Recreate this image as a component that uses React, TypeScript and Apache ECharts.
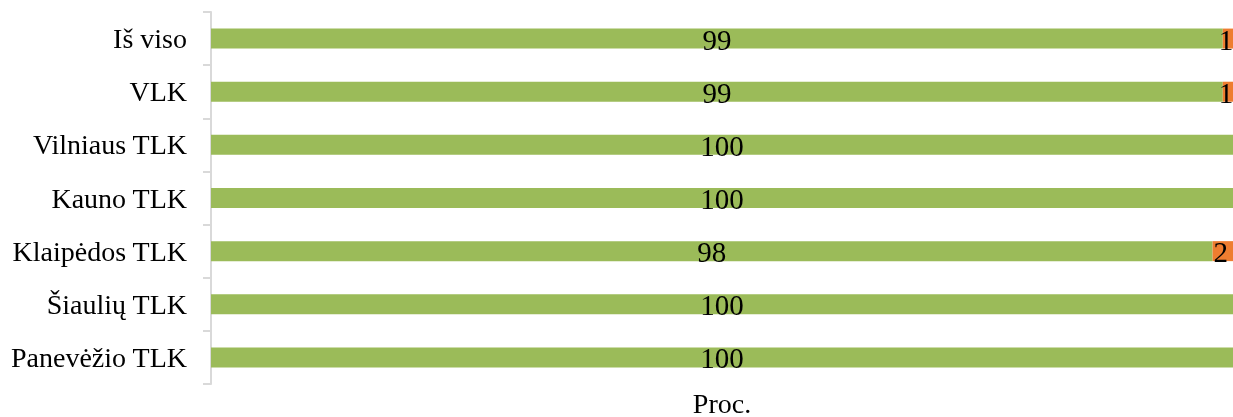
import React, { useEffect, useRef } from "react";
import * as echarts from "echarts";

const categories = [
  "Panevėžio TLK",
  "Šiaulių TLK",
  "Klaipėdos TLK",
  "Kauno TLK",
  "Vilniaus TLK",
  "VLK",
  "Iš viso",
];
const greenValues = [100, 100, 98, 100, 100, 99, 99];
const orangeValues = [0, 0, 2, 0, 0, 1, 1];
const axisName = "Proc.";

export default function App() {
  const ref = useRef<HTMLDivElement>(null);
  useEffect(() => {
    if (!ref.current) return;
    const chart = echarts.init(ref.current, null, { renderer: "svg" });
    const font = "'Liberation Serif', 'Times New Roman', serif";
    const labelCfg = {
      show: true,
      position: "inside",
      fontFamily: font,
      fontSize: 29,
      color: "#000",
      offset: [0, 1],
      formatter: (p: any) => (p.value > 0 ? String(p.value) : ""),
    };
    chart.setOption({
      animation: false,
      textStyle: { fontFamily: font },
      grid: {
        left: 211,
        right: 0,
        top: 12,
        bottom: 33,
        containLabel: false,
        outerBoundsMode: "none",
      },
      xAxis: {
        type: "value",
        min: 0,
        max: 100,
        name: axisName,
        nameLocation: "middle",
        nameGap: 5,
        nameTextStyle: { fontFamily: font, fontSize: 28, color: "#000", lineHeight: 28 },
        axisLine: { show: false },
        axisTick: { show: false },
        axisLabel: { show: false },
        splitLine: { show: false },
      },
      yAxis: {
        type: "category",
        data: categories,
        axisLine: { show: true, lineStyle: { color: "#D9D9D9", width: 2 } },
        axisTick: { show: true, length: 8, lineStyle: { color: "#D9D9D9", width: 2 } },
        axisLabel: { fontFamily: font, fontSize: 28, color: "#000", margin: 24 },
        splitLine: { show: false },
      },
      series: [
        {
          type: "bar",
          stack: "total",
          data: greenValues,
          barWidth: 20,
          itemStyle: { color: "#9BBB59" },
          label: labelCfg,
        },
        {
          type: "bar",
          stack: "total",
          data: orangeValues,
          barWidth: 20,
          itemStyle: { color: "#EE7D30" },
          label: { ...labelCfg, offset: [-2, 1] },
        },
      ],
    });
    return () => chart.dispose();
  }, []);
  return (
    <div
      ref={ref}
      style={{ position: "fixed", left: 0, top: 0, width: 1233, height: 417 }}
    />
  );
}
